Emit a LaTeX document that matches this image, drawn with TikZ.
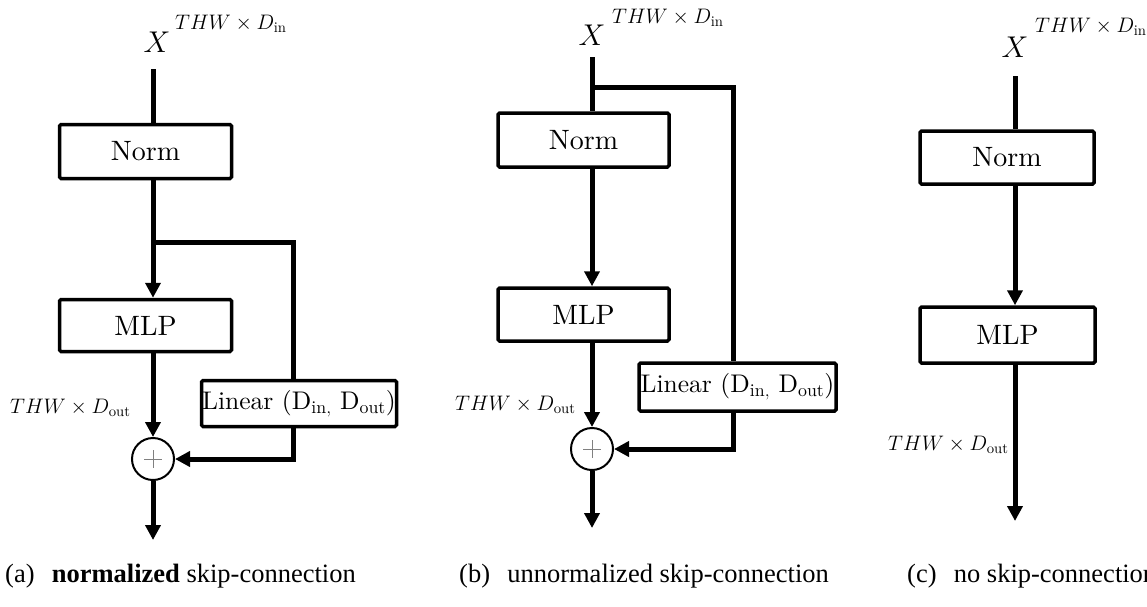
\RequirePackage{fix-cm}
\documentclass[tikz,border=0pt]{standalone}
\usepackage{fontspec}
\usepackage{amsmath}
\setmainfont{lmroman10}[Extension=.otf, UprightFont=*-regular, BoldFont=*-bold, ItalicFont=*-italic]
\newfontfamily\capfont{Liberation Serif}
\usetikzlibrary{arrows.meta}

\begin{document}
\begin{tikzpicture}[
  x=1pt, y=-1pt,
  box/.style={draw, line width=3.5pt, rounded corners=1.5pt, inner sep=0pt, align=center,
    font=\fontsize{28}{34}\selectfont},
  op/.style={draw, circle, line width=2pt, minimum size=42pt, inner sep=0pt,
    path picture={\draw[gray, line width=0.8pt] (path picture bounding box.center) ++(-9pt,0) -- ++(18pt,0)
      (path picture bounding box.center) ++(0,9pt) -- ++(0,-18pt);}},
  wire/.style={line width=5pt},
  arr/.style={line width=5pt, -{Triangle[length=15pt, width=15pt]}},
  xin/.style={inner sep=0pt, anchor=base, font=\fontsize{30}{36}\selectfont},
  dim/.style={inner sep=0pt, anchor=base west, font=\fontsize{21}{25}\selectfont},
  subcap/.style={inner sep=0pt, anchor=base west, font=\capfont\fontsize{26.5}{32}\selectfont}
]
  \useasboundingbox (0,0) rectangle (1147,606);

  % (a) normalized skip-connection
  \node[xin] (xa) at (157,52) {$X$};
  \node[dim] (xadim) at (175,29) {$THW \times D_{\text{in}}$};
  \node[box, minimum width=172pt, minimum height=54pt] (norma) at (145.5,151.5) {Norm};
  \node[box, minimum width=172pt, minimum height=52pt] (mlpa) at (145.5,325.5) {MLP};
  \node[box, minimum width=195pt, minimum height=46pt, font=\fontsize{25.5}{30}\selectfont] (lina) at (299,403.5) {Linear (D$_{\text{in},}$ D$_{\text{out}}$)};
  \node[op] (suma) at (153,459) {};
  \node[dim] (outdima) at (10,413) {$THW \times D_{\text{out}}$};
  \coordinate (ina) at (153,69);
  \coordinate (splita) at (153,242);
  \coordinate (skipa) at (293,242);
  \coordinate (outa) at (153,540);

  \draw[wire] (ina) -- (ina |- norma.north);
  \draw[arr] (ina |- norma.south) -- (ina |- mlpa.north);
  \draw[wire] (splita) -- (skipa) -- (skipa |- lina.north);
  \draw[arr] (ina |- mlpa.south) -- (suma.north);
  \draw[arr] (skipa |- lina.south) |- (suma.east);
  \draw[arr] (suma.south) -- (outa);
  \node[subcap] (capa) at (5,582) {(a)\hspace{0.4em} \textbf{normalized} skip-connection};

  % (b) unnormalized skip-connection
  \node[xin] (xb) at (592,45) {$X$};
  \node[dim] (xbdim) at (612,23) {$THW \times D_{\text{in}}$};
  \node[box, minimum width=171pt, minimum height=54pt] (normb) at (583.5,140) {Norm};
  \node[box, minimum width=171pt, minimum height=53pt] (mlpb) at (583.5,314.5) {MLP};
  \node[box, minimum width=197pt, minimum height=48pt, font=\fontsize{25.5}{30}\selectfont] (linb) at (737.5,387) {Linear (D$_{\text{in},}$ D$_{\text{out}}$)};
  \node[op] (sumb) at (592,449) {};
  \node[dim] (outdimb) at (455,410) {$THW \times D_{\text{out}}$};
  \coordinate (inb) at (592,57);
  \coordinate (splitb) at (592,87);
  \coordinate (skipb) at (733,87);
  \coordinate (outb) at (592,528);

  \draw[wire] (inb) -- (inb |- normb.north);
  \draw[wire] (splitb) -- (skipb) -- (skipb |- linb.north);
  \draw[arr] (inb |- normb.south) -- (inb |- mlpb.north);
  \draw[arr] (inb |- mlpb.south) -- (sumb.north);
  \draw[arr] (skipb |- linb.south) |- (sumb.east);
  \draw[arr] (sumb.south) -- (outb);
  \node[subcap] (capb) at (459,582) {(b)\hspace{0.4em} unnormalized skip-connection};

  % (c) no skip-connection
  \node[xin] (xc) at (1015,57) {$X$};
  \node[dim] (xcdim) at (1035,32) {$THW \times D_{\text{in}}$};
  \node[box, minimum width=174pt, minimum height=53pt] (normc) at (1007,157.5) {Norm};
  \node[box, minimum width=175pt, minimum height=56pt] (mlpc) at (1007.5,335) {MLP};
  \node[dim] (outdimc) at (888,450) {$THW \times D_{\text{out}}$};
  \coordinate (inc) at (1015,76);
  \coordinate (outc) at (1015,521);

  \draw[wire] (inc) -- (inc |- normc.north);
  \draw[arr] (inc |- normc.south) -- (inc |- mlpc.north);
  \draw[arr] (inc |- mlpc.south) -- (outc);
  \node[subcap] (capc) at (907,582) {(c)\hspace{0.4em} no skip-connection};
\end{tikzpicture}
\end{document}
